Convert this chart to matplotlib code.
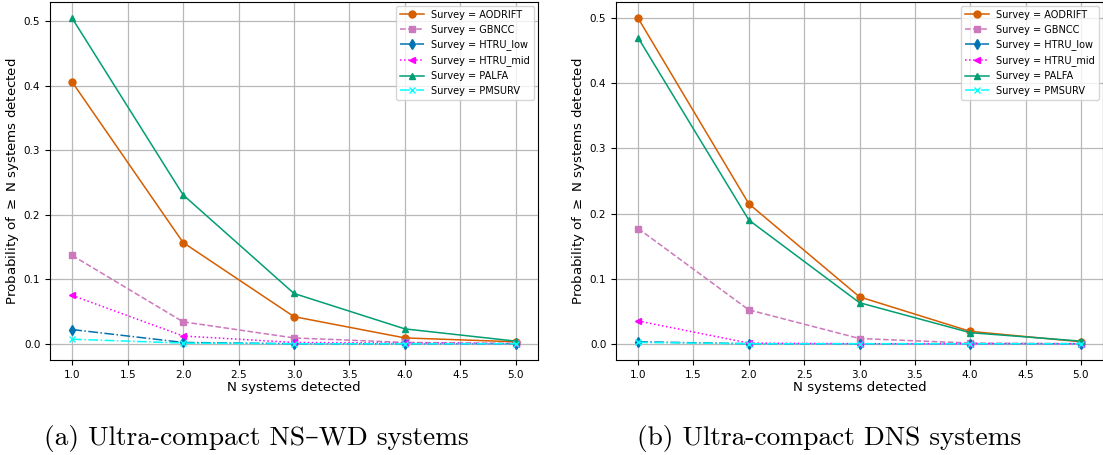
import numpy as np
import matplotlib
matplotlib.use("Agg")
import matplotlib.pyplot as plt

# N systems detected
n_detected = [1.0, 2.0, 3.0, 4.0, 5.0]

surveys = ["AODRIFT", "GBNCC", "HTRU_low", "HTRU_mid", "PALFA", "PMSURV"]

# (a) ultra-compact NS-WD systems
nswd_aodrift = [0.406, 0.157, 0.042, 0.009, 0.003]
nswd_gbncc = [0.137, 0.034, 0.009, 0.002, 0.0005]
nswd_htru_low = [0.022, 0.002, 0.0, 0.0, 0.0]
nswd_htru_mid = [0.075, 0.012, 0.002, 0.001, 0.0]
nswd_palfa = [0.505, 0.231, 0.078, 0.023, 0.004]
nswd_pmsurv = [0.007, 0.001, 0.0, 0.0, 0.0]

# (b) ultra-compact DNS systems
dns_aodrift = [0.500, 0.215, 0.072, 0.019, 0.003]
dns_gbncc = [0.177, 0.052, 0.008, 0.001, 0.0]
dns_htru_low = [0.003, 0.0, 0.0, 0.0, 0.0]
dns_htru_mid = [0.035, 0.001, 0.0, 0.0, 0.0]
dns_palfa = [0.470, 0.190, 0.063, 0.017, 0.004]
dns_pmsurv = [0.002, 0.0, 0.0, 0.0, 0.0]

captions = ["(a) Ultra-compact NS\u2013WD systems", "(b) Ultra-compact DNS systems"]

styles = {
    "AODRIFT": dict(color="#d55e00", marker="o", linestyle="-"),
    "GBNCC": dict(color="#cc78bc", marker="s", linestyle="--"),
    "HTRU_low": dict(color="#0173b2", marker="d", linestyle="-."),
    "HTRU_mid": dict(color="magenta", marker="<", linestyle=":"),
    "PALFA": dict(color="#029e73", marker="^", linestyle="-"),
    "PMSURV": dict(color="cyan", marker="x", linestyle="-."),
}


def plot_panel(ax, series):
    for name, vals in zip(surveys, series):
        ax.plot(n_detected, vals, markersize=5, linewidth=1.1,
                label="Survey = " + name, **styles[name])
    ax.grid(True, color="#b8b8b8", linewidth=0.9)
    ax.set_xlabel("N systems detected", fontsize=9.6, labelpad=1)
    ax.set_ylabel(r"Probability of $\geq$ N systems detected", fontsize=9.6,
                  labelpad=2)
    ax.tick_params(labelsize=7.5)
    ax.legend(loc="upper right", fontsize=7, framealpha=0.8,
              borderaxespad=0.4, handlelength=2.4)


W, H = 1103, 455
fig = plt.figure(figsize=(W / 100, H / 100), dpi=100)

ax1 = fig.add_axes([50 / W, (H - 360) / H, 488 / W, 358 / H])
plot_panel(ax1, [nswd_aodrift, nswd_gbncc, nswd_htru_low,
                 nswd_htru_mid, nswd_palfa, nswd_pmsurv])

ax2 = fig.add_axes([616 / W, (H - 360) / H, 487 / W, 358 / H])
plot_panel(ax2, [dns_aodrift, dns_gbncc, dns_htru_low,
                 dns_htru_mid, dns_palfa, dns_pmsurv])

fig.text(256 / W, 1 - 439 / H, captions[0], ha="center", va="center",
         fontsize=19.7, family=["cmr10", "DejaVu Serif"])
fig.text(829 / W, 1 - 439 / H, captions[1], ha="center", va="center",
         fontsize=19.7, family=["cmr10", "DejaVu Serif"])

fig.savefig("out.png", dpi=100)
